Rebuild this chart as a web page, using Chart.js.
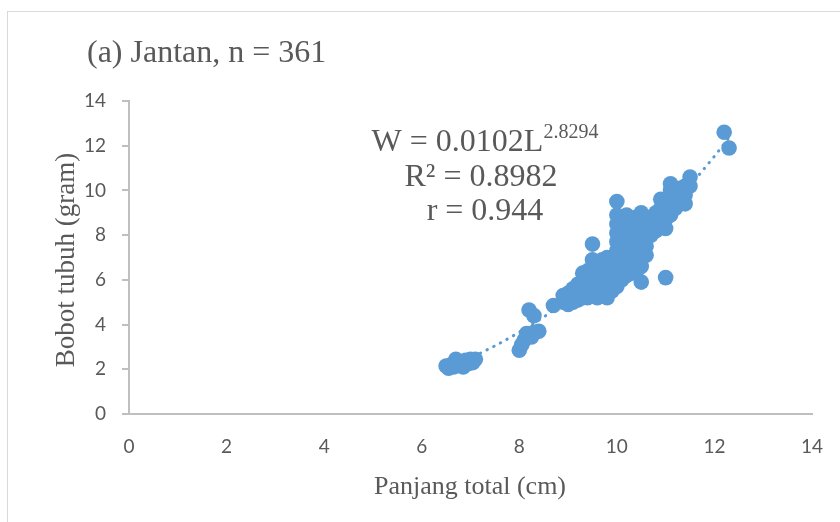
<!DOCTYPE html>
<html>
<head>
<meta charset="utf-8">
<script src="https://cdn.jsdelivr.net/npm/chart.js@4.4.1/dist/chart.umd.min.js"></script>
<style>
  html, body { margin: 0; padding: 0; background: #fff; }
  #wrap { position: relative; width: 840px; height: 522px; overflow: hidden; }
  #frame { position: absolute; left: 7px; top: 11px; width: 860px; height: 540px; border: 1px solid #d9d9d9; }
  #c { position: absolute; left: 0; top: 0; }
</style>
</head>
<body>
<div id="wrap">
  <div id="frame"></div>
  <canvas id="c" width="840" height="522"></canvas>
</div>
<script>
// Panjang total (cm) / Bobot tubuh (gram)
const panjang = [
  6.5, 6.55, 6.6, 6.65, 6.7, 6.7, 6.75, 6.8, 6.85, 6.9, 6.95, 7.0, 7.05, 7.1,
  8.0, 8.05, 8.1, 8.15, 8.2, 8.25, 8.3, 8.4, 8.2, 8.3, 8.7,
  8.9, 8.9,
  9.0, 9.0, 9.0,
  9.1, 9.1, 9.1,
  9.2, 9.2, 9.2,
  9.3, 9.3, 9.3, 9.3,
  9.4, 9.4, 9.4, 9.4,
  9.5, 9.5, 9.5, 9.5, 9.5, 9.5,
  9.6, 9.6, 9.6, 9.6, 9.6,
  9.7, 9.7, 9.7, 9.7, 9.7,
  9.8, 9.8, 9.8, 9.8, 9.8, 9.8,
  9.9, 9.9, 9.9, 9.9, 9.9,
  10.0, 10.0, 10.0, 10.0, 10.0, 10.0, 10.0, 10.0, 10.0, 10.0,
  10.1, 10.1, 10.1, 10.1, 10.1, 10.1, 10.1, 10.1,
  10.2, 10.2, 10.2, 10.2, 10.2, 10.2, 10.2, 10.2,
  10.3, 10.3, 10.3, 10.3, 10.3, 10.3, 10.3,
  10.4, 10.4, 10.4, 10.4, 10.4, 10.4, 10.4,
  10.5, 10.5, 10.5, 10.5, 10.5, 10.5, 10.5, 10.5,
  10.6, 10.6, 10.6, 10.6, 10.6,
  10.7, 10.7, 10.7,
  10.8, 10.8, 10.8,
  10.9, 10.9, 10.9, 10.9,
  11.0, 11.0, 11.0, 11.0, 11.0,
  11.1, 11.1, 11.1, 11.1, 11.1,
  11.2, 11.2, 11.2,
  11.3, 11.3, 11.3,
  11.4, 11.4, 11.4,
  11.5, 11.5,
  12.2, 12.3
];
const bobot = [
  2.15, 2.05, 2.2, 2.1, 2.45, 2.15, 2.35, 2.3, 2.1, 2.4, 2.25, 2.45, 2.3, 2.45,
  2.85, 3.1, 3.3, 3.6, 3.5, 3.45, 3.65, 3.7, 4.65, 4.4, 4.85,
  5.0, 5.3,
  4.9, 5.1, 5.4,
  5.0, 5.3, 5.6,
  5.1, 5.4, 5.8,
  5.2, 5.5, 5.9, 6.3,
  5.2, 5.6, 6.0, 6.4,
  5.3, 5.7, 6.1, 6.5, 6.9, 7.6,
  5.2, 5.6, 6.0, 6.4, 6.8,
  5.3, 5.7, 6.1, 6.5, 6.9,
  5.2, 5.5, 5.9, 6.3, 6.7, 7.0,
  5.5, 5.9, 6.3, 6.7, 7.0,
  5.7, 6.1, 6.5, 6.9, 7.3, 7.7, 8.1, 8.5, 8.9, 9.5,
  6.0, 6.4, 6.8, 7.2, 7.6, 8.0, 8.4, 8.8,
  6.2, 6.6, 7.0, 7.4, 7.8, 8.2, 8.6, 8.9,
  6.3, 6.7, 7.1, 7.5, 7.9, 8.3, 8.7,
  6.4, 6.8, 7.2, 7.6, 8.0, 8.4, 8.8,
  5.9, 6.6, 7.0, 7.4, 7.8, 8.2, 8.6, 9.0,
  7.1, 7.5, 7.9, 8.3, 8.7,
  8.0, 8.4, 8.8,
  8.2, 8.6, 9.0,
  8.4, 8.8, 9.2, 9.6,
  6.1, 8.3, 8.7, 9.1, 9.5,
  8.9, 9.3, 9.7, 10.0, 10.3,
  9.2, 9.6, 10.0,
  9.4, 9.8, 10.1,
  9.4, 9.8, 10.2,
  10.2, 10.6,
  12.6, 11.9
];

// dotted power trendline
const trendX = [6.5, 7.0, 7.5, 8.0, 8.5, 9.0, 9.5, 10.0, 10.5, 11.0, 11.5, 12.0, 12.3];
const trendY = [2.03, 2.51, 3.05, 3.66, 4.34, 5.11, 5.95, 6.89, 7.91, 9.02, 10.23, 11.53, 12.37];

const xTicks = [0, 2, 4, 6, 8, 10, 12, 14];
const yTicks = [0, 2, 4, 6, 8, 10, 12, 14];

const chartTitle = '(a) Jantan, n = 361';
const eqMain = 'W = 0.0102L';
const eqExp = '2.8294';
const eqR2 = 'R² = 0.8982';
const eqR = 'r = 0.944';
const xTitle = 'Panjang total (cm)';
const yTitle = 'Bobot tubuh (gram)';

const blue = '#5B9BD5';
const textGrey = '#595959';
const axisGrey = '#bfbfbf';
const serif = '"Liberation Serif", "Times New Roman", serif';

const texts = {
  id: 'texts',
  afterDraw(chart) {
    const ctx = chart.ctx;
    ctx.save();
    ctx.fillStyle = textGrey;
    ctx.textBaseline = 'alphabetic';

    ctx.font = '32px ' + serif;
    ctx.textAlign = 'left';
    ctx.fillText(chartTitle, 87, 62);

    // regression label
    const cx = 485;
    ctx.font = '32px ' + serif;
    const wMain = ctx.measureText(eqMain).width;
    ctx.font = '20px ' + serif;
    const wExp = ctx.measureText(eqExp).width;
    const x0 = cx - (wMain + wExp) / 2;
    ctx.font = '32px ' + serif;
    ctx.fillText(eqMain, x0, 151);
    ctx.font = '20px ' + serif;
    ctx.fillText(eqExp, x0 + wMain, 138);
    ctx.font = '32px ' + serif;
    ctx.textAlign = 'center';
    ctx.fillText(eqR2, 481, 186);
    ctx.fillText(eqR, 485, 220);

    ctx.font = '26px ' + serif;
    ctx.fillText(xTitle, 470, 494);

    ctx.font = '27px ' + serif;
    ctx.translate(74, 260);
    ctx.rotate(-Math.PI / 2);
    ctx.fillText(yTitle, 0, 0);
    ctx.restore();
  }
};

const ctx = document.getElementById('c').getContext('2d');

new Chart(ctx, {
  type: 'scatter',
  data: {
    datasets: [
      {
        label: 'Jantan',
        data: panjang.map((v, i) => ({ x: v, y: bobot[i] })),
        backgroundColor: blue,
        borderWidth: 0,
        pointRadius: 7.8,
        order: 1,
      },
      {
        type: 'line',
        label: 'Power',
        data: trendX.map((v, i) => ({ x: v, y: trendY[i] })),
        borderColor: blue,
        borderWidth: 3,
        borderDash: [0.5, 7],
        borderCapStyle: 'round',
        pointRadius: 0,
        fill: false,
        cubicInterpolationMode: 'monotone',
        order: 2,
      },
    ],
  },
  options: {
    responsive: false,
    animation: false,
    events: [],
    layout: { padding: { top: 101, right: 28, left: 0, bottom: 0 } },
    plugins: {
      legend: { display: false },
      tooltip: { enabled: false },
      title: { display: false },
    },
    scales: {
      x: {
        type: 'linear',
        min: 0,
        max: 14,
        afterFit: (scale) => { scale.height = 108; },
        afterBuildTicks: (scale) => { scale.ticks = xTicks.map(v => ({ value: v })); },
        ticks: {
          color: textGrey,
          font: { family: 'Lato', size: 19 },
          padding: 13,
        },
        grid: { display: false },
        border: { display: true, color: axisGrey, width: 2 },
      },
      y: {
        min: 0,
        max: 14,
        afterFit: (scale) => { scale.width = 129; },
        afterBuildTicks: (scale) => { scale.ticks = yTicks.map(v => ({ value: v })); },
        ticks: {
          color: textGrey,
          font: { family: 'Lato', size: 19 },
          padding: 16,
        },
        grid: {
          display: true,
          drawOnChartArea: false,
          drawTicks: true,
          tickLength: 7,
          color: axisGrey,
          lineWidth: 2,
        },
        border: { display: true, color: axisGrey, width: 2 },
      },
    },
  },
  plugins: [texts],
});
</script>
</body>
</html>
